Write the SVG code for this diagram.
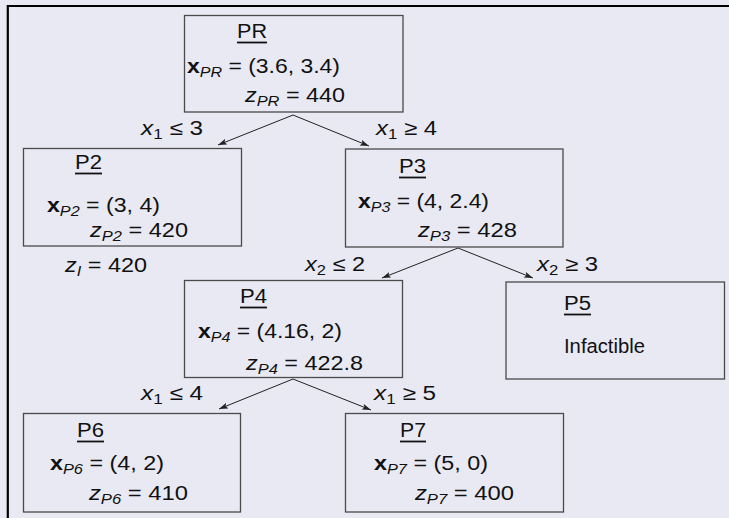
<svg xmlns="http://www.w3.org/2000/svg" width="729" height="518" viewBox="0 0 729 518">
<defs>
<marker id="arr" markerUnits="userSpaceOnUse" markerWidth="10" markerHeight="8" refX="9" refY="3" orient="auto">
<path d="M0,0 L9,3 L0,6 L2,3 z" fill="#222"/>
</marker>
</defs>
<style>
.bg{fill:#e9e9f3}
.frame{stroke:#000;stroke-width:2.2;fill:none}
.box{fill:none;stroke:#4a4a4a;stroke-width:1.3}
.t{font-family:"Liberation Sans",Arial,sans-serif;font-size:20px;fill:#111}
.ul{stroke:#111;stroke-width:1.8}
.b{font-weight:bold}
.i{font-style:italic}
.s{font-size:14px}
.edge{stroke:#222;stroke-width:1;fill:none;marker-end:url(#arr)}
</style>
<rect class="bg" x="0" y="0" width="729" height="518"/>
<path class="frame" d="M7.8,518 L7.8,6 L729,6"/>

<g id="connectors">
<line class="edge" x1="293" y1="115" x2="218" y2="145"/>
<line class="edge" x1="293" y1="115" x2="369" y2="146"/>
<line class="edge" x1="458" y1="248" x2="382" y2="278"/>
<line class="edge" x1="458" y1="248" x2="533" y2="278"/>
<line class="edge" x1="293" y1="379" x2="219" y2="409"/>
<line class="edge" x1="293" y1="379" x2="371" y2="410"/>
<text class="t" x="141" y="135" textLength="62" lengthAdjust="spacingAndGlyphs"><tspan class="i">x</tspan><tspan class="s" dy="4">1</tspan><tspan dy="-4"> ≤ 3</tspan></text>
<text class="t" x="376" y="135" textLength="61" lengthAdjust="spacingAndGlyphs"><tspan class="i">x</tspan><tspan class="s" dy="4">1</tspan><tspan dy="-4"> ≥ 4</tspan></text>
<text class="t" x="305" y="271" textLength="60" lengthAdjust="spacingAndGlyphs"><tspan class="i">x</tspan><tspan class="s" dy="4">2</tspan><tspan dy="-4"> ≤ 2</tspan></text>
<text class="t" x="537" y="271" textLength="61" lengthAdjust="spacingAndGlyphs"><tspan class="i">x</tspan><tspan class="s" dy="4">2</tspan><tspan dy="-4"> ≥ 3</tspan></text>
<text class="t" x="141" y="400" textLength="62" lengthAdjust="spacingAndGlyphs"><tspan class="i">x</tspan><tspan class="s" dy="4">1</tspan><tspan dy="-4"> ≤ 4</tspan></text>
<text class="t" x="374" y="400" textLength="62" lengthAdjust="spacingAndGlyphs"><tspan class="i">x</tspan><tspan class="s" dy="4">1</tspan><tspan dy="-4"> ≥ 5</tspan></text>
</g>

<g id="PR">
<rect class="box" x="184.5" y="15.5" width="218.5" height="96.5"/>
<text class="t" x="237" y="38" textLength="30" lengthAdjust="spacingAndGlyphs">PR</text>
<line class="ul" x1="237" y1="42.5" x2="267" y2="42.5"/>
<text class="t" x="187" y="73" textLength="153" lengthAdjust="spacingAndGlyphs"><tspan class="b">x</tspan><tspan class="s i" dy="4">PR</tspan><tspan dy="-4"> = (3.6, 3.4)</tspan></text>
<text class="t" x="245" y="102" textLength="100" lengthAdjust="spacingAndGlyphs"><tspan class="i">z</tspan><tspan class="s i" dy="4">PR</tspan><tspan dy="-4"> = 440</tspan></text>
</g>

<g id="P2">
<rect class="box" x="23.5" y="148.5" width="218" height="97.5"/>
<text class="t" x="75" y="169" textLength="27" lengthAdjust="spacingAndGlyphs">P2</text>
<line class="ul" x1="75" y1="173.5" x2="102" y2="173.5"/>
<text class="t" x="47" y="212" textLength="113" lengthAdjust="spacingAndGlyphs"><tspan class="b">x</tspan><tspan class="s i" dy="4">P2</tspan><tspan dy="-4"> = (3, 4)</tspan></text>
<text class="t" x="90" y="237" textLength="98" lengthAdjust="spacingAndGlyphs"><tspan class="i">z</tspan><tspan class="s i" dy="4">P2</tspan><tspan dy="-4"> = 420</tspan></text>
<text class="t" x="65" y="272" textLength="82" lengthAdjust="spacingAndGlyphs"><tspan class="i">z</tspan><tspan class="s i" dy="4">I</tspan><tspan dy="-4"> = 420</tspan></text>
</g>

<g id="P3">
<rect class="box" x="345.5" y="149" width="217.5" height="98"/>
<text class="t" x="399" y="173" textLength="27" lengthAdjust="spacingAndGlyphs">P3</text>
<line class="ul" x1="399" y1="177.5" x2="426" y2="177.5"/>
<text class="t" x="358" y="208" textLength="131" lengthAdjust="spacingAndGlyphs"><tspan class="b">x</tspan><tspan class="s i" dy="4">P3</tspan><tspan dy="-4"> = (4, 2.4)</tspan></text>
<text class="t" x="418" y="237" textLength="99" lengthAdjust="spacingAndGlyphs"><tspan class="i">z</tspan><tspan class="s i" dy="4">P3</tspan><tspan dy="-4"> = 428</tspan></text>
</g>

<g id="P4">
<rect class="box" x="184.5" y="280.5" width="218" height="97"/>
<text class="t" x="240" y="303" textLength="27" lengthAdjust="spacingAndGlyphs">P4</text>
<line class="ul" x1="240" y1="307.5" x2="267" y2="307.5"/>
<text class="t" x="198" y="338" textLength="144" lengthAdjust="spacingAndGlyphs"><tspan class="b">x</tspan><tspan class="s i" dy="4">P4</tspan><tspan dy="-4"> = (4.16, 2)</tspan></text>
<text class="t" x="246" y="370" textLength="117" lengthAdjust="spacingAndGlyphs"><tspan class="i">z</tspan><tspan class="s i" dy="4">P4</tspan><tspan dy="-4"> = 422.8</tspan></text>
</g>

<g id="P5">
<rect class="box" x="506" y="282" width="218.5" height="97"/>
<text class="t" x="564" y="310" textLength="27" lengthAdjust="spacingAndGlyphs">P5</text>
<line class="ul" x1="564" y1="314.5" x2="591" y2="314.5"/>
<text class="t" x="564" y="353" textLength="81" lengthAdjust="spacingAndGlyphs">Infactible</text>
</g>

<g id="P6">
<rect class="box" x="23.5" y="413.5" width="217" height="98.5"/>
<text class="t" x="77" y="437" textLength="27" lengthAdjust="spacingAndGlyphs">P6</text>
<line class="ul" x1="77" y1="441.5" x2="104" y2="441.5"/>
<text class="t" x="50" y="470" textLength="114" lengthAdjust="spacingAndGlyphs"><tspan class="b">x</tspan><tspan class="s i" dy="4">P6</tspan><tspan dy="-4"> = (4, 2)</tspan></text>
<text class="t" x="89" y="500" textLength="99" lengthAdjust="spacingAndGlyphs"><tspan class="i">z</tspan><tspan class="s i" dy="4">P6</tspan><tspan dy="-4"> = 410</tspan></text>
</g>

<g id="P7">
<rect class="box" x="345.5" y="413.5" width="218" height="98.5"/>
<text class="t" x="400" y="437" textLength="26" lengthAdjust="spacingAndGlyphs">P7</text>
<line class="ul" x1="400" y1="441.5" x2="426" y2="441.5"/>
<text class="t" x="374" y="470" textLength="114" lengthAdjust="spacingAndGlyphs"><tspan class="b">x</tspan><tspan class="s i" dy="4">P7</tspan><tspan dy="-4"> = (5, 0)</tspan></text>
<text class="t" x="415" y="500" textLength="99" lengthAdjust="spacingAndGlyphs"><tspan class="i">z</tspan><tspan class="s i" dy="4">P7</tspan><tspan dy="-4"> = 400</tspan></text>
</g>
</svg>
